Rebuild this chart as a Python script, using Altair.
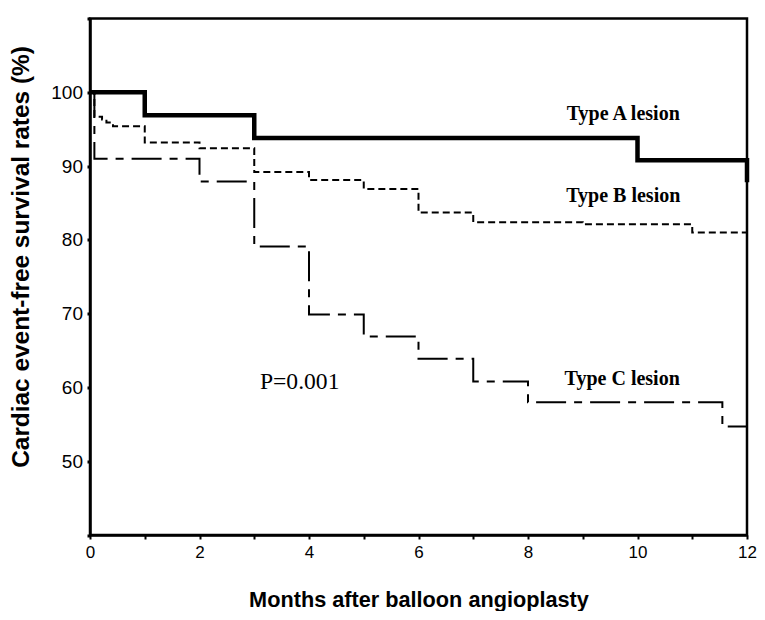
import altair as alt
import pandas as pd

# ---- data ----
months_A = [0, 1, 3, 10, 12]
surv_A = [100, 96.9, 93.8, 90.8, 87.8]

months_B = [0, 0.08, 0.22, 0.3, 0.42, 1, 2, 3, 4, 5, 6, 7, 9, 11, 12]
surv_B = [100, 96.7, 96.3, 95.9, 95.4, 93.2, 92.4, 89.2, 88.1, 86.9, 83.7, 82.4, 82.1, 81.0, 79.4]

months_C = [0, 0.08, 2, 3, 4, 5, 6, 7, 8, 11.55, 12]
surv_C = [100, 91.0, 87.9, 79.1, 69.9, 66.9, 63.9, 60.8, 58.0, 54.7, 54.7]

label_text = ["Type A lesion", "Type B lesion", "Type C lesion"]
label_x = [9.74, 9.74, 9.72]
label_y = [97.1, 85.9, 61.1]

p_text = ["P=0.001"]
p_x = [3.83]
p_y = [60.8]

x_ticks = list(range(0, 13))
y_ticks = [40, 50, 60, 70, 80, 90, 100, 110]

dfA = pd.DataFrame({"m": months_A, "s": surv_A})
dfB = pd.DataFrame({"m": months_B, "s": surv_B})
dfC = pd.DataFrame({"m": months_C, "s": surv_C})
dfL = pd.DataFrame({"m": label_x, "s": label_y, "t": label_text})
dfP = pd.DataFrame({"m": p_x, "s": p_y, "t": p_text})

xs = alt.Scale(domain=[0, 12], nice=False, zero=False)
ys = alt.Scale(domain=[40, 110], nice=False, zero=False)

xax = alt.Axis(values=x_ticks, format="d",
               labelExpr="datum.value % 2 == 0 ? datum.label : ''",
               title="Months after balloon angioplasty", grid=False,
               tickSize=4, tickWidth=2, tickColor="black", labelPadding=5,
               labelFont="Liberation Sans", labelFontSize=17, labelColor="black",
               titleFont="Liberation Sans", titleFontSize=21.7, titleFontWeight="bold",
               titleColor="black", titlePadding=29,
               domainColor="black", domainWidth=2.5, labelFlush=False)
yax = alt.Axis(values=y_ticks, format="d",
               labelExpr="(datum.value == 40 || datum.value == 110) ? '' : datum.label",
               labelFontSize={"condition": {"test": "datum.value == 40 || datum.value == 110", "value": 0},
                              "value": 19},
               title="Cardiac event-free survival rates (%)", grid=False,
               tickSize=3, tickWidth=3, tickColor="black", labelPadding=4.5,
               labelFont="Liberation Sans", labelColor="black",
               titleFont="Liberation Sans", titleFontSize=24.4, titleFontWeight="bold",
               titleColor="black", titlePadding=17, titleY=238,
               domainColor="black", domainWidth=2.5, labelFlush=False)

X = alt.X("m:Q", scale=xs, axis=xax)
Y = alt.Y("s:Q", scale=ys, axis=yax)

lineA = alt.Chart(dfA).mark_line(interpolate="step-after", color="black",
                                 strokeWidth=4.5).encode(x=X, y=Y)
lineB = alt.Chart(dfB).mark_line(interpolate="step-after", color="black",
                                 strokeWidth=2, strokeDash=[7, 4]).encode(x=X, y=Y)
lineC = alt.Chart(dfC).mark_line(interpolate="step-after", color="black",
                                 strokeWidth=2, strokeDash=[30, 8, 8, 8]).encode(x=X, y=Y)

labels = alt.Chart(dfL).mark_text(font="Liberation Serif", fontSize=20, fontWeight="bold",
                                  color="black", align="center", baseline="middle").encode(
    x=alt.X("m:Q", scale=xs), y=alt.Y("s:Q", scale=ys), text="t:N")
ptext = alt.Chart(dfP).mark_text(font="Liberation Serif", fontSize=23.6,
                                 color="black", align="center", baseline="middle").encode(
    x=alt.X("m:Q", scale=xs), y=alt.Y("s:Q", scale=ys), text="t:N")

chart = alt.layer(lineA, lineB, lineC, labels, ptext).properties(
    width=749, height=603,
    autosize=alt.AutoSizeParams(type="fit", contains="padding"),
    padding={"left": 0, "top": 8.5, "right": 0, "bottom": 0},
    background="white",
).configure_view(stroke="black", strokeWidth=2.5)

chart.save("out.html", embed_options={"renderer": "svg", "actions": False})
